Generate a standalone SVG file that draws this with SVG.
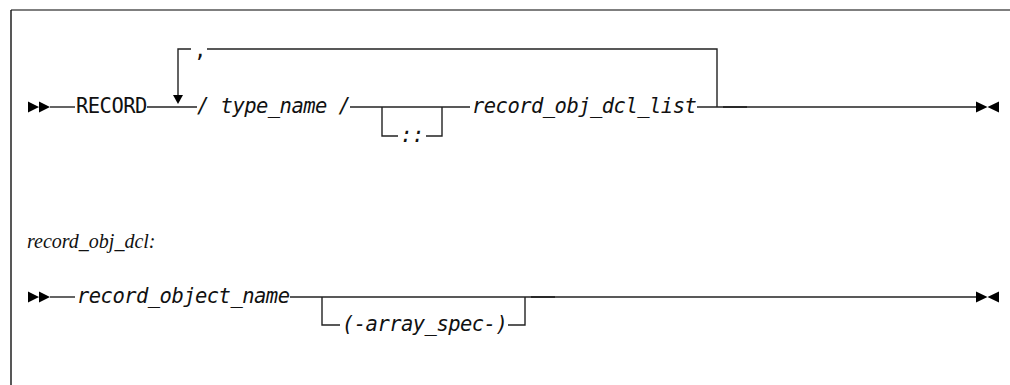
<svg xmlns="http://www.w3.org/2000/svg" width="1010" height="385" viewBox="0 0 1010 385">
<style>
.ln{stroke:#222;stroke-width:1.4;fill:none}
.thick{stroke:#222;stroke-width:1.7;fill:none}
.ar{fill:#000;stroke:none}
.mono{font-family:"DejaVu Sans Mono","Liberation Mono",monospace;font-size:20.5px;letter-spacing:-0.54px;fill:#111}
.it{font-style:italic}
.lbl{font-family:"Liberation Serif","DejaVu Serif",serif;font-style:italic;font-size:20px;fill:#111}
</style>
<defs>
<path id="dbl" d="M0,-5.5 L11,0 L0,5.5 Z M11,-5.5 L22,0 L11,5.5 Z"/>
<path id="end" d="M0,-5.5 L11.5,0 L0,5.5 Z M23,-5.5 L11.5,0 L23,5.5 Z"/>
</defs>
<rect x="0" y="0" width="1010" height="385" fill="#fff"/>
<g id="frame">
<line x1="11" y1="10" x2="1010" y2="10" stroke="#555" stroke-width="1.6"/>
<line x1="11" y1="10" x2="11" y2="385" stroke="#111" stroke-width="1.4"/>
</g>
<g id="connectors">
<use href="#dbl" x="28" y="107" class="ar"/>
<line class="ln" x1="50" y1="107" x2="75" y2="107"/>
<line class="ln" x1="147" y1="107" x2="197" y2="107"/>
<polyline class="ln" points="178,96 178,49 191,49"/>
<path class="ar" d="M173,95 L183,95 L178,104 Z"/>
<polyline class="ln" points="207,49 717,49 717,107"/>
<line class="ln" x1="350" y1="107" x2="470" y2="107"/>
<polyline class="ln" points="382,107 382,136 398,136"/>
<polyline class="ln" points="426,136 442,136 442,107"/>
<line class="ln" x1="697" y1="107" x2="976" y2="107"/>
<line class="thick" x1="723" y1="107" x2="747" y2="107"/>
<use href="#end" x="976" y="107" class="ar"/>
<use href="#dbl" x="28" y="297" class="ar"/>
<line class="ln" x1="50" y1="297" x2="75" y2="297"/>
<line class="ln" x1="290" y1="297" x2="976" y2="297"/>
<line class="thick" x1="531" y1="297" x2="555" y2="297"/>
<polyline class="ln" points="322,297 322,325 340,325"/>
<polyline class="ln" points="508,325 525,325 525,297"/>
<use href="#end" x="976" y="297" class="ar"/>
</g>
<g id="node-record">
<text class="mono" x="76" y="113">RECORD</text>
</g>
<g id="node-comma">
<text class="mono" x="200" y="57" text-anchor="middle">,</text>
</g>
<g id="node-type-name">
<text class="mono it" x="197" y="113">/ type_name /</text>
</g>
<g id="node-colons">
<text class="mono it" x="412" y="142" text-anchor="middle">::</text>
</g>
<g id="node-record-obj-dcl-list">
<text class="mono it" x="472" y="113">record_obj_dcl_list</text>
</g>
<g id="node-label">
<text class="lbl" x="27" y="248">record_obj_dcl:</text>
</g>
<g id="node-record-object-name">
<text class="mono it" x="77" y="303">record_object_name</text>
</g>
<g id="node-array-spec">
<text class="mono it" x="342" y="331">(-array_spec-)</text>
</g>
</svg>
